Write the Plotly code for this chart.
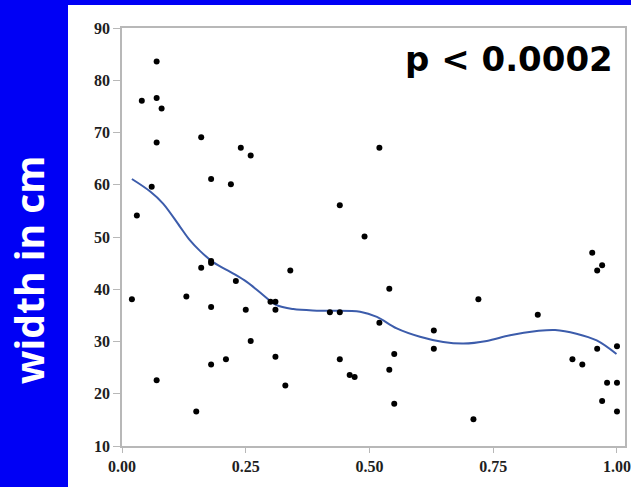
import plotly.graph_objects as go

# Observed widths against relative position
pos = [0.02, 0.03, 0.04, 0.06, 0.07, 0.07, 0.07, 0.07, 0.08, 0.13,
       0.15, 0.16, 0.16, 0.18, 0.18, 0.18, 0.18, 0.18, 0.21, 0.22,
       0.23, 0.24, 0.25, 0.26, 0.26, 0.30, 0.31, 0.31, 0.31, 0.33,
       0.34, 0.42, 0.44, 0.44, 0.44, 0.46, 0.47, 0.49, 0.52, 0.52,
       0.54, 0.54, 0.55, 0.55, 0.63, 0.63, 0.71, 0.72, 0.84, 0.91,
       0.93, 0.95, 0.96, 0.97, 0.96, 0.97, 0.98, 1.00, 1.00, 1.00]
width_cm = [38.1, 54.1, 76.1, 59.6, 83.6, 76.6, 68.1, 22.6, 74.6, 38.6,
            16.6, 69.1, 44.1, 61.1, 45.4, 45.0, 36.6, 25.6, 26.6, 60.1,
            41.6, 67.1, 36.1, 65.6, 30.1, 37.6, 37.6, 36.1, 27.1, 21.6,
            43.6, 35.6, 35.6, 56.1, 26.6, 23.6, 23.2, 50.1, 67.1, 33.6,
            40.1, 24.6, 27.6, 18.1, 32.1, 28.6, 15.1, 38.1, 35.1, 26.6,
            25.6, 47.0, 43.6, 44.6, 28.6, 18.6, 22.1, 29.1, 22.1, 16.6]

# Smoothed trend through the observations
smooth_x = [0.02, 0.057, 0.083, 0.117, 0.137, 0.158, 0.184, 0.225, 0.252,
            0.285, 0.311, 0.346, 0.40, 0.481, 0.515, 0.555, 0.602, 0.649,
            0.690, 0.737, 0.784, 0.838, 0.875, 0.918, 0.959, 0.999]
smooth_y = [61.1, 58.7, 56.4, 52.0, 49.4, 47.3, 45.2, 43.0, 41.4,
            38.9, 37.0, 36.2, 35.9, 35.7, 34.7, 32.5, 30.9, 29.9,
            29.6, 30.1, 31.2, 32.0, 32.2, 31.5, 30.2, 27.6]

x_ticks = [0.0, 0.25, 0.5, 0.75, 1.0]
x_tick_text = ["0.00", "0.25", "0.50", "0.75", "1.00"]
y_ticks = [10, 20, 30, 40, 50, 60, 70, 80, 90]

W, H = 631, 487
ML, MR, MT, MB = 122, 6, 28, 41
pw, ph = W - ML - MR, H - MT - MB


def px_x(p):
    return (p - ML) / pw


def px_y(p):
    return (H - MB - p) / ph


fig = go.Figure()
fig.add_trace(go.Scatter(x=smooth_x, y=smooth_y, mode="lines",
                         line=dict(color="#3c5cab", width=2, shape="spline"),
                         hoverinfo="skip"))
fig.add_trace(go.Scatter(x=pos, y=width_cm, mode="markers",
                         marker=dict(color="black", size=6)))

tick_font = dict(family="Liberation Serif", size=16, color="#1e1e1e", weight="bold")
fig.update_xaxes(range=[0, 1.0162], tickvals=x_ticks, ticktext=x_tick_text,
                 showgrid=False, zeroline=False, showline=True, mirror=True,
                 linecolor="#b8b8b8", linewidth=1.5, ticks="outside", ticklen=5,
                 tickcolor="#b8b8b8", tickfont=tick_font, automargin=False)
fig.update_yaxes(range=[10, 90], tickvals=y_ticks,
                 showgrid=False, zeroline=False, showline=True, mirror=True,
                 linecolor="#b8b8b8", linewidth=1.5, ticks="outside", ticklen=7,
                 tickcolor="#b8b8b8", tickfont=tick_font, automargin=False)

blue = "#0000f5"
fig.update_layout(
    width=W, height=H,
    margin=dict(l=ML, r=MR, t=MT, b=MB),
    paper_bgcolor="white", plot_bgcolor="white",
    showlegend=False,
    shapes=[
        dict(type="rect", xref="paper", yref="paper",
             x0=px_x(0), x1=px_x(68), y0=px_y(H), y1=px_y(0),
             fillcolor=blue, line_width=0, layer="below"),
        dict(type="rect", xref="paper", yref="paper",
             x0=px_x(0), x1=px_x(W), y0=px_y(5), y1=px_y(0),
             fillcolor=blue, line_width=0, layer="below"),
    ],
    annotations=[
        dict(text="width in cm", textangle=-90, xref="paper", yref="paper",
             x=px_x(28), y=px_y(270), xanchor="center", yanchor="middle",
             showarrow=False,
             font=dict(family="Open Sans", size=39, color="white", weight="bold")),
        dict(text="p < 0.0002", xref="paper", yref="paper",
             x=px_x(615), y=px_y(59), xanchor="right", yanchor="middle",
             showarrow=False,
             font=dict(family="DejaVu Sans", size=34, color="black", weight="bold")),
    ],
)

fig.write_html("out.html")
